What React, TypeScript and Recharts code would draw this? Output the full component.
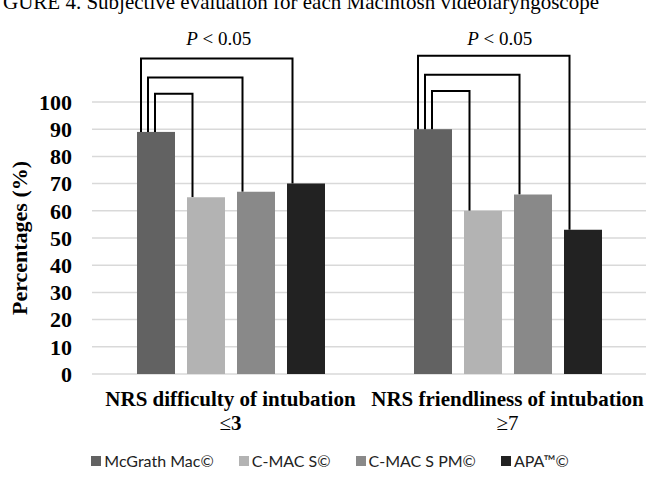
import React from "react";
import { Bar, BarChart, CartesianGrid, Label, Legend, XAxis, YAxis } from "recharts";

const categories = ["NRS difficulty of intubation", "NRS friendliness of intubation"];
const thresholdSymbols = ["≤", "≥"];
const thresholdValues = ["3", "7"];
const devices = ["McGrath Mac©", "C-MAC S©", "C-MAC S PM©", "APA™©"];
const mcgrathMac = [89, 90];
const cmacS = [65, 60];
const cmacSPm = [67, 66];
const apa = [70, 53];
const yTicks = [0, 10, 20, 30, 40, 50, 60, 70, 80, 90, 100];

// significance brackets: McGrath vs C-MAC S, C-MAC S PM, APA (levels in % units)
const bracketLevels = [
  [103, 109, 116],
  [104, 110, 117],
];
const pLabelLevel = 121;
const pLabelText = " < 0.05";

const colors = ["#626262", "#b3b3b3", "#898989", "#222222"];
const SERIF = "'Liberation Serif', 'Times New Roman', serif";
const LEGEND_FONT = "Lato, 'Liberation Sans', sans-serif";
const BAR_SIZE = 38;
const BAR_GAP = 12;

const series = [mcgrathMac, cmacS, cmacSPm, apa];
const data = categories.map((category, i) => ({
  category,
  mcgrath: mcgrathMac[i],
  cmacS: cmacS[i],
  cmacSPm: cmacSPm[i],
  apa: apa[i],
}));

const leftLegOffsets = [18, 11, 4]; // inner, middle, outer
const rightLegOffset = 5.5;

function McGrathShape(props: any) {
  const { x, y, width, height, fill, index } = props;
  const value = mcgrathMac[index];
  const base = y + height;
  const perUnit = height / value;
  const toY = (v: number) => base - v * perUnit;
  const pitch = width + BAR_GAP;
  const levels = bracketLevels[index];
  const paths = levels.map((lvl, k) => {
    const target = k + 1;
    const lx = x + leftLegOffsets[k];
    const rx = x + target * pitch + rightLegOffset;
    const ty = toY(series[target][index]);
    return `M${lx},${y} V${toY(lvl)} H${rx} V${ty}`;
  });
  const outerLeft = x + leftLegOffsets[2];
  const outerRight = x + 3 * pitch + rightLegOffset;
  return (
    <g>
      <rect x={x} y={y} width={width} height={height} fill={fill} />
      {paths.map((d, k) => (
        <path key={k} d={d} fill="none" stroke="#000" strokeWidth={2} />
      ))}
      <text
        x={(outerLeft + outerRight) / 2 + 2 + index * 4}
        y={toY(pLabelLevel)}
        textAnchor="middle"
        fontFamily={SERIF}
        fontSize={19}
        fill="#000"
      >
        <tspan fontStyle="italic">P</tspan>
        {pLabelText}
      </text>
    </g>
  );
}

function CategoryTick(props: any) {
  const { x, y, payload, index } = props;
  return (
    <g>
      <text x={x} y={y + 32} textAnchor="middle" fontFamily={SERIF} fontSize={21} fontWeight={700} fill="#000">
        {payload.value}
      </text>
      <text x={x} y={y + 56} textAnchor="middle" fontFamily={SERIF} fontSize={21} fill="#000">
        <tspan>{thresholdSymbols[index]}</tspan>
        <tspan fontWeight={index === 0 ? 700 : 400}>{thresholdValues[index]}</tspan>
      </text>
    </g>
  );
}

function LegendContent() {
  return (
    <div
      style={{
        display: "flex",
        justifyContent: "center",
        gap: 25,
        height: 20,
        lineHeight: "20px",
        fontFamily: LEGEND_FONT,
        fontSize: 16,
        color: "#222",
        paddingLeft: 6,
      }}
    >
      {devices.map((d, i) => (
        <div key={d} style={{ display: "flex", alignItems: "center" }}>
          <span style={{ width: 10, height: 10, background: colors[i], marginRight: 3 }} />
          <span>{d}</span>
        </div>
      ))}
    </div>
  );
}

export default function App() {
  return (
    <div style={{ position: "relative", width: 654, height: 503, background: "#fff", overflow: "hidden" }}>
      <style>{"body{margin:0}"}</style>
      <div
        style={{
          position: "absolute",
          left: 3,
          top: -8,
          fontFamily: SERIF,
          fontSize: 21,
          lineHeight: "21px",
          whiteSpace: "nowrap",
          color: "#000",
        }}
      >
        GURE 4. Subjective evaluation for each Macintosh videolaryngoscope
      </div>
      <BarChart
        width={654}
        height={503}
        data={data}
        margin={{ top: 102, right: 8, bottom: 32, left: 0 }}
        barSize={BAR_SIZE}
        barGap={BAR_GAP}
      >
        <CartesianGrid vertical={false} stroke="#d9d9d9" strokeWidth={1.5} />
        <XAxis
          dataKey="category"
          axisLine={false}
          tickLine={false}
          tickSize={0}
          tickMargin={0}
          height={77}
          interval={0}
          tick={<CategoryTick />}
        />
        <YAxis
          domain={[0, 100]}
          ticks={yTicks}
          interval={0}
          width={92}
          axisLine={false}
          tickLine={false}
          tickSize={0}
          tickMargin={20}
          tick={{ fill: "#000", fontSize: 22, fontWeight: 700, fontFamily: SERIF }}
        >
          <Label
            content={(p: any) => {
              const vb = p.viewBox;
              const cx = 27;
              const cy = vb.y + vb.height / 2;
              return (
                <text
                  x={cx}
                  y={cy}
                  transform={`rotate(-90, ${cx}, ${cy})`}
                  textAnchor="middle"
                  fontFamily={SERIF}
                  fontSize={22}
                  fontWeight={700}
                  fill="#000"
                >
                  Percentages (%)
                </text>
              );
            }}
          />
        </YAxis>
        <Legend verticalAlign="bottom" content={<LegendContent />} wrapperStyle={{ left: 0, width: 654 }} />
        <Bar dataKey="mcgrath" name={devices[0]} fill={colors[0]} shape={<McGrathShape />} isAnimationActive={false} />
        <Bar dataKey="cmacS" name={devices[1]} fill={colors[1]} isAnimationActive={false} />
        <Bar dataKey="cmacSPm" name={devices[2]} fill={colors[2]} isAnimationActive={false} />
        <Bar dataKey="apa" name={devices[3]} fill={colors[3]} isAnimationActive={false} />
      </BarChart>
    </div>
  );
}
